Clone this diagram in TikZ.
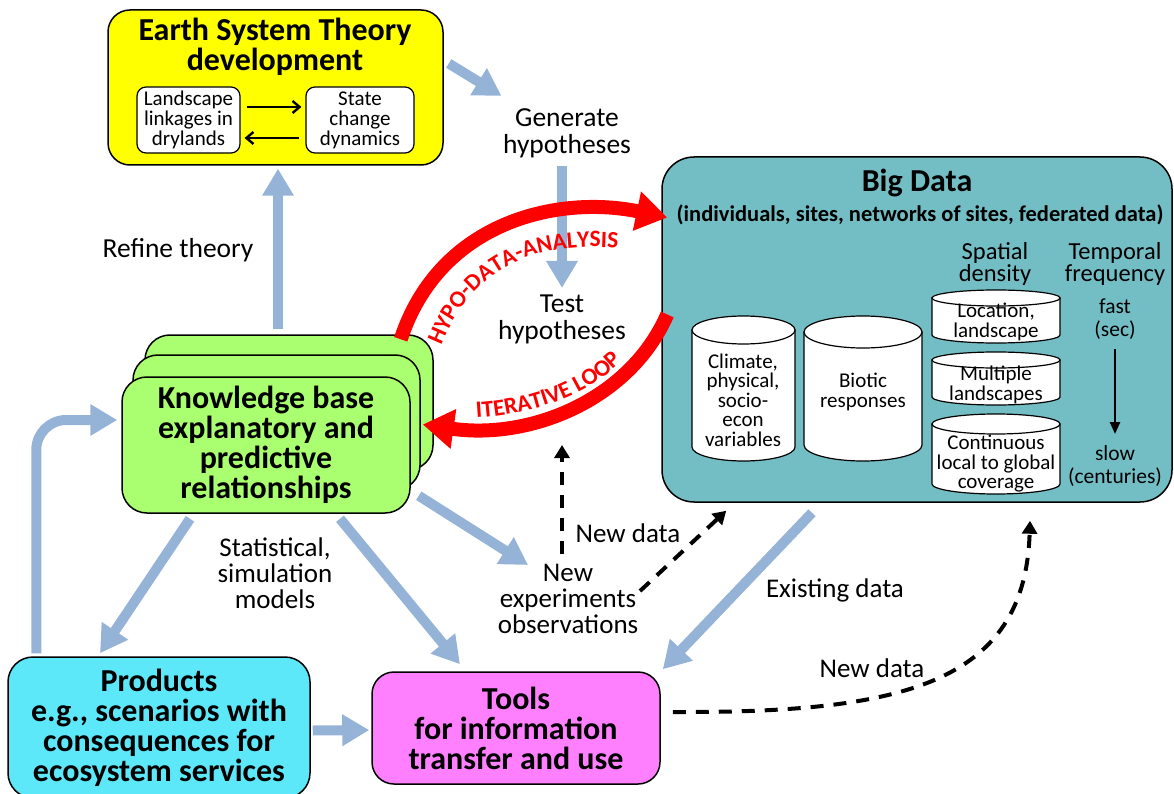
\documentclass[tikz,border=0pt]{standalone}
\usepackage{fontspec}
\setmainfont{Carlito}
\usetikzlibrary{arrows.meta,decorations.text,calc}
\definecolor{ybox}{HTML}{FFFF00}
\definecolor{tealbox}{HTML}{73BEC4}
\definecolor{greenbox}{HTML}{AAFF70}
\definecolor{cyanbox}{HTML}{5DE8FA}
\definecolor{magbox}{HTML}{FF80FF}
\definecolor{bluea}{HTML}{95B3D7}
\newcommand\fsz[2]{\fontsize{#1}{#2}\selectfont}
\newcommand\dbcyl[5]{%
  \path[draw=black,fill=white,line width=1.2pt] (#1,#2+#5) -- (#1,#4-#5)
    arc[start angle=180,end angle=0,x radius={(#3-#1)/2},y radius=#5] -- (#3,#2+#5) -- cycle;
  \path[draw=black,fill=white,line width=1.2pt] ({(#1+#3)/2},#2+#5) ellipse[x radius={(#3-#1)/2},y radius=#5];}
\begin{document}
\begin{tikzpicture}[x=1pt,y=-1pt,
  box/.style={draw=black,line width=1.5pt,rounded corners=22pt},
  ibox/.style={draw=black,line width=1.2pt,fill=white,rounded corners=9pt,align=center,font=\fsz{21}{20}},
  lbl/.style={align=center,font=\fsz{27.5}{27}},
  blbl/.style={align=center,font=\bfseries\fsz{32}{30}},
  ctext/.style={align=center,font=\fsz{21}{19.5}},
  barrow/.style={draw=bluea,line width=10pt,-{Triangle[width=30pt,length=27pt]}},
  rarrow/.style={draw=red,line width=14pt,-{Triangle[width=38pt,length=31pt]}},
  darrow/.style={draw=black,line width=4pt,dash pattern=on 13pt off 10pt,-{Triangle[width=15pt,length=13pt]}},
  barb/.style={draw=black,line width=2.4pt,-{Straight Barb[width=12pt,length=7pt,line width=2.4pt]}},
  rtext/.style={decorate,decoration={text along path,text align=center,
      text={|\bfseries\fsz{23.5}{23.5}\color{red}|#1}}}
]
\useasboundingbox (0,0) rectangle (1174,794);

% ---------- Earth system theory
\node[box,fill=ybox,minimum width=335,minimum height=155] (est) at (275.5,87.5) {};
\node[blbl] (esttitle) at (275,47) {Earth System Theory\\development};
\node[ibox,minimum width=103,minimum height=66] (land) at (188.5,120) {Landscape\\linkages in\\drylands};
\node[ibox,minimum width=108,minimum height=66] (state) at (360,120) {State\\change\\dynamics};
\draw[barb] ($(land.east)+(6,-13)$) -- ($(state.west)+(-4,-13)$);
\draw[barb] ($(state.west)+(-6,18)$) -- ($(land.east)+(4,18)$);

% ---------- Big Data
\node[box,fill=tealbox,rounded corners=32pt,minimum width=510,minimum height=345] (bd) at (917,329.5) {};
\node[font=\bfseries\fsz{32}{32}] (bdtitle) at (917,183) {Big Data};
\node[font=\bfseries\fsz{22.5}{24}] (bdsub) at (920,215) {(individuals, sites, networks of sites, federated data)};
\node[align=center,font=\fsz{24.5}{22}] (spatial) at (995,264) {Spatial\\density};
\node[align=center,font=\fsz{24.5}{22}] (temporal) at (1115,264) {Temporal\\frequency};
\node[align=center,font=\fsz{21.5}{23}] (fast) at (1115,319) {fast\\(sec)};
\node[align=center,font=\fsz{21.5}{23}] (slow) at (1115,466) {slow\\(centuries)};
\draw[draw=black,line width=2.5pt,-{Triangle[width=10pt,length=12pt]}] ($(fast.south)+(0,6)$) -- ($(slow.north)+(0,-8)$);

\dbcyl{692}{316}{795}{461}{14}
\node[ctext] (clim) at (743,400) {Climate,\\physical,\\socio-\\econ\\variables};
\dbcyl{804}{316}{922}{461}{16}
\node[ctext] (biot) at (863,392) {Biotic\\responses};
\dbcyl{932}{290}{1060}{343}{8}
\node[ctext] (loc) at (996,322) {Location,\\landscape};
\dbcyl{932}{352}{1060}{405}{8}
\node[ctext] (mult) at (996,385) {Multiple\\landscapes};
\dbcyl{932}{414}{1060}{494}{10}
\node[ctext] (cont) at (996,464) {Continuous\\local to global\\coverage};

% ---------- Knowledge base
\node[box,fill=greenbox,rounded corners=25pt,minimum width=288,minimum height=135] (kbback) at (289,402.5) {};
\node[box,fill=greenbox,rounded corners=25pt,minimum width=287,minimum height=135] (kbmid) at (276.5,422.5) {};
\node[box,fill=greenbox,rounded corners=25pt,minimum width=288,minimum height=136,blbl] (kbf) at (266,445)
  {Knowledge base\\explanatory and\\predictive\\relationships};

% ---------- Products and tools
\node[box,fill=cyanbox,rounded corners=25pt,minimum width=302,minimum height=141,blbl] (prod) at (159,727.5)
  {Products\\e.g., scenarios with\\consequences for\\ecosystem services};
\node[box,fill=magbox,rounded corners=22pt,minimum width=288,minimum height=112,blbl] (tools) at (516,728)
  {Tools\\for information\\transfer and use};

% ---------- free labels
\node[lbl] (gen) at (567,133) {Generate\\hypotheses};
\node[lbl] (test) at (562,319) {Test\\hypotheses};
\node[lbl] (refine) at (178,250) {Refine theory};
\node[align=center,font=\fsz{27}{26}] (stat) at (275,573) {Statistical,\\simulation\\models};
\node[align=center,font=\fsz{27}{26}] (newexp) at (568,599) {New\\experiments\\observations};
\node[font=\fsz{27}{26}] (nd1) at (628,533) {New data};
\node[font=\fsz{27}{26}] (exist) at (835,590) {Existing data};
\node[font=\fsz{27}{26}] (nd2) at (872,668) {New data};
\coordinate (upend) at (562,445);

% ---------- blue arrows
\draw[barrow] ($(est.east)+(5,-24)$) -- ($(gen.north west)+(2,-9)$);
\draw[barrow] ($(gen.south)+(-5,5)$) -- ($(test.north)+(0,-3)$);
\draw[barrow] ($(kbback.north)+(-11,-5)$) -- ($(est.south)+(2.5,3)$);
\draw[barrow,rounded corners=30pt] ($(prod.north west)+(29,-3)$) |- ($(kbf.west)+(-4,-25)$);
\draw[barrow] ($(kbf.south)+(-76,5)$) -- ($(prod.north)+(-59,-3)$);
\draw[barrow] ($(kbf.south)+(74,5)$) -- ($(tools.north)+(-56,-7)$);
\draw[barrow] ($(kbf.south east)+(8,-18)$) -- (528,565);
\draw[barrow] ($(prod.east)+(2,3)$) -- ($(tools.west)+(-2,2)$);
\draw[barrow] ($(bd.south)+(-105,10)$) -- ($(tools.north east)+(2,-2)$);

% ---------- red arcs
\draw[rarrow] ($(kbback.north east)+(-33,5)$) .. controls (440,220) and (560,195) .. ($(bd.west)+(6,-112)$);
\draw[rarrow] ($(bd.west)+(6,-15)$) .. controls (630,400) and (530,440) .. ($(kbmid.east)+(2,2)$);
\path[rtext={HYPO-DATA-ANALYSIS}] (437,357) .. controls (471,259) and (543,240) .. (630,249);
\path[rtext={ITERATIVE LOOP}] (414,416) .. controls (525,429) and (620,392) .. (659,311);

% ---------- dashed arrows
\draw[darrow] (562,554) -- (upend);
\draw[darrow] (640,591) -- ($(bd.south west)+(65,8)$);
\draw[darrow] ($(tools.east)+(12,-16)$) .. controls (900,713) and (1025,685) .. ($(bd.south)+(113,18)$);
\end{tikzpicture}
\end{document}
